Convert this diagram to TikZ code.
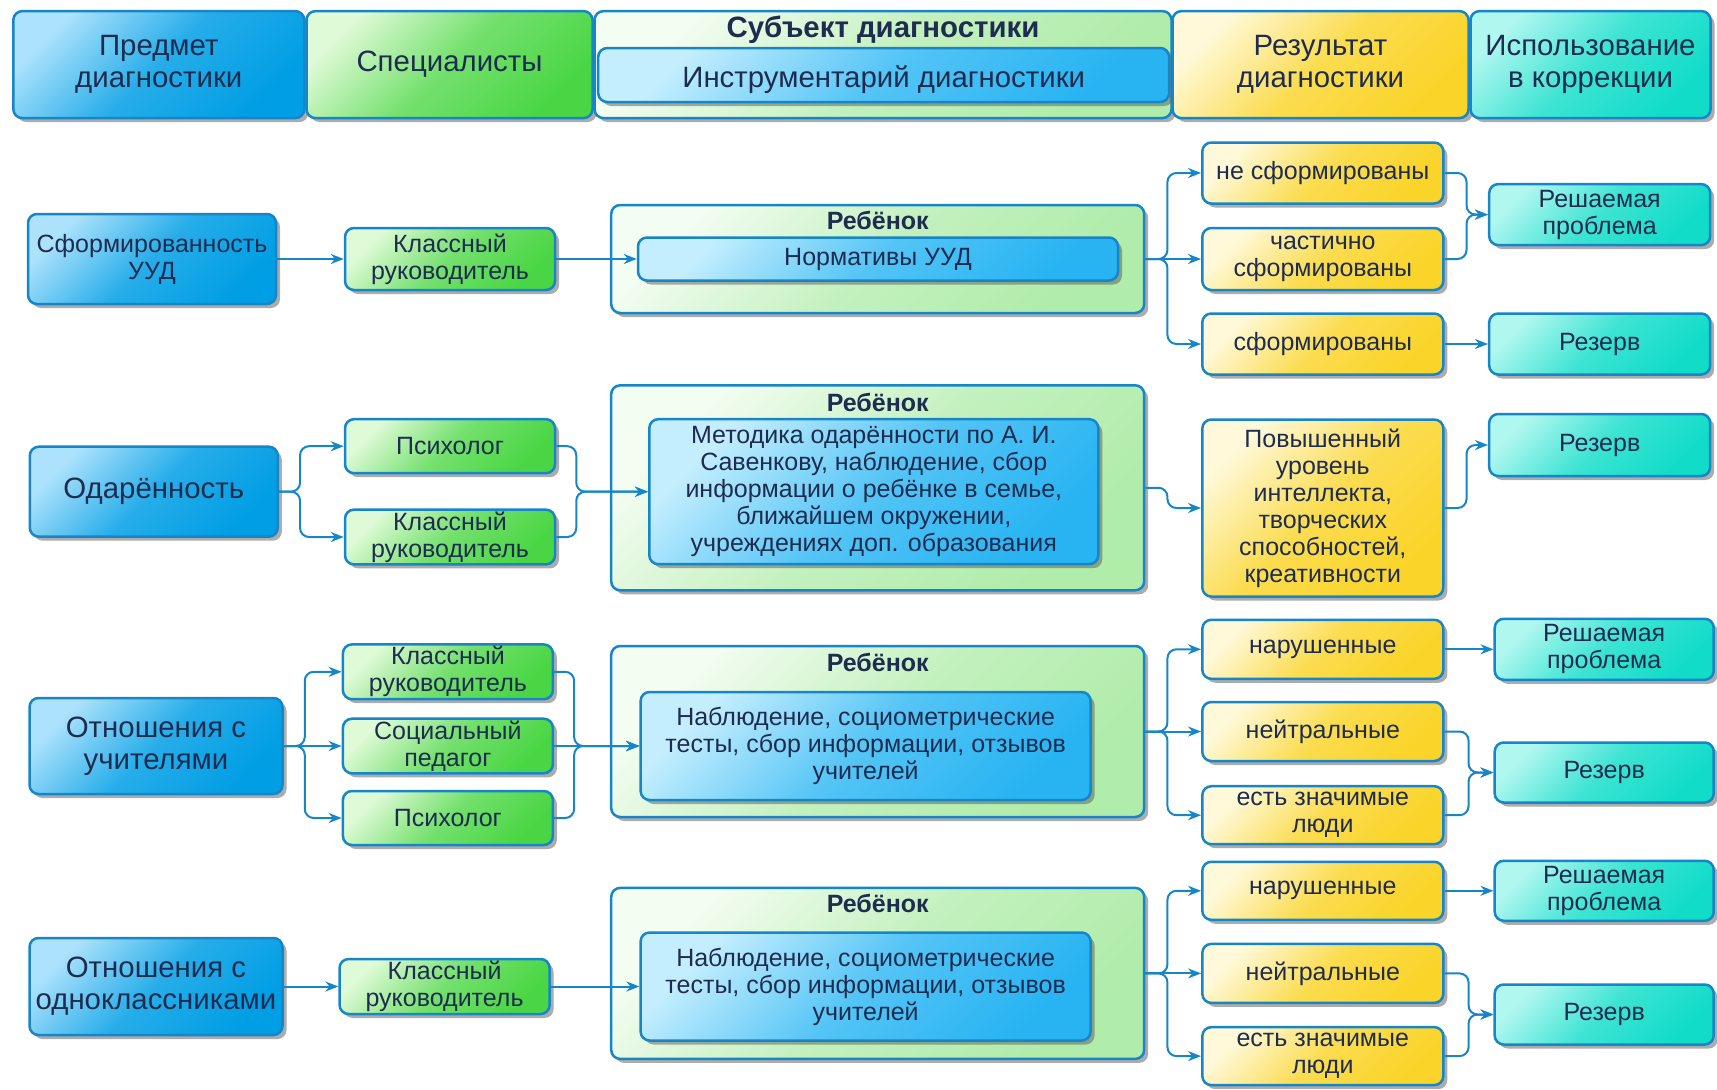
\documentclass[tikz,border=0pt]{standalone}
\usepackage{fontspec}
\setmainfont{Liberation Sans}
\usetikzlibrary{arrows.meta, positioning, shadows}

\definecolor{edgeblue}{RGB}{22,134,200}
\definecolor{txtnavy}{RGB}{30,44,80}
\definecolor{blueA}{RGB}{172,226,252}
\definecolor{blueB}{RGB}{0,158,228}
\definecolor{greenA}{RGB}{222,250,214}
\definecolor{greenB}{RGB}{74,214,68}
\definecolor{paleA}{RGB}{244,253,242}
\definecolor{paleB}{RGB}{176,236,170}
\definecolor{cyanA}{RGB}{196,238,254}
\definecolor{cyanB}{RGB}{40,180,242}
\definecolor{yellowA}{RGB}{255,249,218}
\definecolor{yellowB}{RGB}{250,212,40}
\definecolor{tealA}{RGB}{176,247,240}
\definecolor{tealB}{RGB}{16,220,200}

\newcommand{\diagbody}{\fontsize{25}{27}\selectfont}
\newcommand{\diaghead}{\fontsize{29.4}{32}\selectfont}

\begin{document}
\begin{tikzpicture}[
    x=1pt, y=-1pt,
    box/.style={draw=edgeblue, line width=2.5pt, rounded corners=9pt, align=center,
        text=txtnavy, inner sep=2pt, font=\diagbody,
        drop shadow={shadow xshift=4pt, shadow yshift=-4pt, fill=black!65, opacity=0.5}},
    subjbox/.style={box, top color=blueA, bottom color=blueB, middle color=blueB!78!blueA, shading angle=45},
    specbox/.style={box, top color=greenA, bottom color=greenB, middle color=greenB!72!greenA, shading angle=45},
    childbox/.style={box, top color=paleA, bottom color=paleB, middle color=paleB!72!paleA, shading angle=45},
    toolbox/.style={box, top color=cyanA, bottom color=cyanB, middle color=cyanB!72!cyanA, shading angle=45},
    resbox/.style={box, top color=yellowA, bottom color=yellowB, middle color=yellowB!78!yellowA, shading angle=45},
    usebox/.style={box, top color=tealA, bottom color=tealB, middle color=tealB!72!tealA, shading angle=45},
    lbl/.style={font=\bfseries\diagbody, text=txtnavy},
    conn/.style={draw=edgeblue, line width=2pt, rounded corners=9pt, -{Stealth[length=13pt, width=10pt]}}
]
    \useasboundingbox (0,0) rectangle (1717,1090);

    % Header
    \node[subjbox, font=\diaghead, minimum width=291, minimum height=107] (hsubj) at (158.8,64.6) {Предмет\\диагностики};
    \node[specbox, font=\diaghead, minimum width=286, minimum height=107] (hspec) at (449.5,64.6) {Специалисты};
    \node[childbox, minimum width=577, minimum height=107] (hchild) at (883,64.6) {};
    \node[lbl, font=\bfseries\diaghead] (hchildt) at (883,30) {Субъект диагностики};
    \node[toolbox, font=\diaghead, minimum width=571, minimum height=54, text height=31] (htools) at (883.7,75) {Инструментарий диагностики};
    \node[resbox, font=\diaghead, minimum width=296, minimum height=107] (hres) at (1320.5,64.6) {Результат\\диагностики};
    \node[usebox, font=\diaghead, minimum width=240, minimum height=107] (huse) at (1590.5,64.6) {Использование\\в коррекции};

    % Row 1: УУД
    \node[subjbox, minimum width=248, minimum height=90] (s1) at (152,259) {Сформированность\\УУД};
    \node[specbox, minimum width=210, minimum height=62] (k1) at (450,259) {Классный\\руководитель};
    \node[childbox, minimum width=533, minimum height=108] (c1) at (877.7,259) {};
    \node[lbl] (c1t) at (877.7,220) {Ребёнок};
    \node[toolbox, minimum width=480, minimum height=43] (n1) at (878,259) {Нормативы УУД};
    \node[resbox, minimum width=241, minimum height=61] (r1a) at (1322.8,173) {не сформированы};
    \node[resbox, minimum width=241, minimum height=62] (r1b) at (1322.8,259) {частично\\сформированы};
    \node[resbox, minimum width=241, minimum height=61] (r1c) at (1322.8,344) {сформированы};
    \node[usebox, minimum width=221, minimum height=61] (u1a) at (1599.7,214.6) {Решаемая\\проблема};
    \node[usebox, minimum width=221, minimum height=61] (u1b) at (1599.7,344) {Резерв};

    \draw[conn] (s1.east) -- (k1.west);
    \draw[conn] (k1.east) -- (n1.west);
    \draw[conn] (c1.east) -- ++(22,0) |- (r1a.west);
    \draw[conn] (c1.east) -- (r1b.west);
    \draw[conn] (c1.east) -- ++(22,0) |- (r1c.west);
    \draw[conn] (r1a.east) -- ++(22,0) |- (u1a.west);
    \draw[conn] (r1b.east) -- ++(22,0) |- (u1a.west);
    \draw[conn] (r1c.east) -- (u1b.west);

    % Row 2: одарённость
    \node[subjbox, font=\diaghead, minimum width=248, minimum height=90] (s2) at (153.8,491.7) {Одарённость};
    \node[specbox, minimum width=210, minimum height=54] (k2a) at (450,446.2) {Психолог};
    \node[specbox, minimum width=210, minimum height=54] (k2b) at (450,537) {Классный\\руководитель};
    \node[childbox, minimum width=533, minimum height=205] (c2) at (877.7,487.8) {};
    \node[lbl] (c2t) at (877.7,402) {Ребёнок};
    \node[toolbox, minimum width=449, minimum height=145] (m2) at (873.8,491.7) {Методика одарённости по А. И.\\Савенкову, наблюдение, сбор\\информации о ребёнке в семье,\\ближайшем окружении,\\учреждениях доп. образования};
    \node[resbox, minimum width=241, minimum height=177] (p2) at (1322.8,508) {Повышенный\\уровень\\интеллекта,\\творческих\\способностей,\\креативности};
    \node[usebox, minimum width=221, minimum height=62] (u2) at (1599.7,445) {Резерв};

    \draw[conn] (s2.east) -- ++(21,0) |- (k2a.west);
    \draw[conn] (s2.east) -- ++(21,0) |- (k2b.west);
    \draw[conn] (k2a.east) -- ++(20,0) |- (m2.west);
    \draw[conn] (k2b.east) -- ++(20,0) |- (m2.west);
    \draw[conn] (c2.east) -- ++(22,0) |- (p2.west);
    \draw[conn] (p2.east) -- ++(22,0) |- (u2.west);

    % Row 3: отношения с учителями
    \node[subjbox, font=\diaghead, minimum width=253, minimum height=96] (s3) at (156,746) {Отношения с\\учителями};
    \node[specbox, minimum width=210, minimum height=54] (k3a) at (447.9,671.8) {Классный\\руководитель};
    \node[specbox, minimum width=210, minimum height=54] (k3b) at (447.9,746) {Социальный\\педагог};
    \node[specbox, minimum width=210, minimum height=54] (k3c) at (447.9,818) {Психолог};
    \node[childbox, minimum width=533, minimum height=171] (c3) at (877.7,731.5) {};
    \node[lbl] (c3t) at (877.7,662.5) {Ребёнок};
    \node[toolbox, minimum width=450, minimum height=108] (m3) at (865.6,746) {Наблюдение, социометрические\\тесты, сбор информации, отзывов\\учителей};
    \node[resbox, minimum width=241, minimum height=59] (r3a) at (1322.8,649.3) {нарушенные};
    \node[resbox, minimum width=241, minimum height=59] (r3b) at (1322.8,731.5) {нейтральные};
    \node[resbox, minimum width=241, minimum height=58] (r3c) at (1322.8,815.2) {есть значимые\\люди};
    \node[usebox, minimum width=219, minimum height=61] (u3a) at (1604.2,649.3) {Решаемая\\проблема};
    \node[usebox, minimum width=219, minimum height=60] (u3b) at (1604.2,772.5) {Резерв};

    \draw[conn] (s3.east) -- ++(21,0) |- (k3a.west);
    \draw[conn] (s3.east) -- (k3b.west);
    \draw[conn] (s3.east) -- ++(21,0) |- (k3c.west);
    \draw[conn] (k3a.east) -- ++(20,0) |- (m3.west);
    \draw[conn] (k3b.east) -- (m3.west);
    \draw[conn] (k3c.east) -- ++(20,0) |- (m3.west);
    \draw[conn] (c3.east) -- ++(22,0) |- (r3a.west);
    \draw[conn] (c3.east) -- (r3b.west);
    \draw[conn] (c3.east) -- ++(22,0) |- (r3c.west);
    \draw[conn] (r3a.east) -- (u3a.west);
    \draw[conn] (r3b.east) -- ++(24,0) |- (u3b.west);
    \draw[conn] (r3c.east) -- ++(24,0) |- (u3b.west);

    % Row 4: отношения с одноклассниками
    \node[subjbox, font=\diaghead, minimum width=253, minimum height=97] (s4) at (156,986.5) {Отношения с\\одноклассниками};
    \node[specbox, minimum width=210, minimum height=55] (k4) at (444.6,986.5) {Классный\\руководитель};
    \node[childbox, minimum width=533, minimum height=171] (c4) at (877.7,973.4) {};
    \node[lbl] (c4t) at (877.7,903.4) {Ребёнок};
    \node[toolbox, minimum width=450, minimum height=108] (m4) at (865.6,986.5) {Наблюдение, социометрические\\тесты, сбор информации, отзывов\\учителей};
    \node[resbox, minimum width=241, minimum height=58] (r4a) at (1322.8,890.8) {нарушенные};
    \node[resbox, minimum width=241, minimum height=59] (r4b) at (1322.8,973.4) {нейтральные};
    \node[resbox, minimum width=241, minimum height=58] (r4c) at (1322.8,1056.1) {есть значимые\\люди};
    \node[usebox, minimum width=219, minimum height=60] (u4a) at (1604.2,890.8) {Решаемая\\проблема};
    \node[usebox, minimum width=219, minimum height=60] (u4b) at (1604.2,1014.5) {Резерв};

    \draw[conn] (s4.east) -- (k4.west);
    \draw[conn] (k4.east) -- (m4.west);
    \draw[conn] (c4.east) -- ++(22,0) |- (r4a.west);
    \draw[conn] (c4.east) -- (r4b.west);
    \draw[conn] (c4.east) -- ++(22,0) |- (r4c.west);
    \draw[conn] (r4a.east) -- (u4a.west);
    \draw[conn] (r4b.east) -- ++(24,0) |- (u4b.west);
    \draw[conn] (r4c.east) -- ++(24,0) |- (u4b.west);
\end{tikzpicture}
\end{document}
